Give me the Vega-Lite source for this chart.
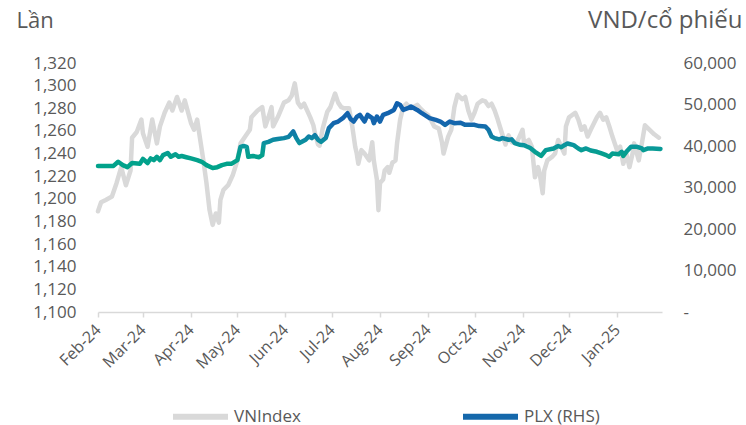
{
  "$schema": "https://vega.github.io/schema/vega-lite/v6.json",
  "width": 564,
  "height": 249,
  "autosize": {"type": "none"},
  "padding": {"left": 98, "top": 63, "right": 84, "bottom": 113},
  "config": {
    "font": "Open Sans",
    "view": {"stroke": null},
    "axis": {"grid": false, "labelColor": "#595959", "titleColor": "#595959", "titleFontWeight": "normal"}
  },
  "datasets": {
    "vn": [
      {"date": "2024-02-01", "value": 1189}, {"date": "2024-02-03", "value": 1197}, {"date": "2024-02-06", "value": 1199},
      {"date": "2024-02-10", "value": 1202}, {"date": "2024-02-13", "value": 1214}, {"date": "2024-02-16", "value": 1228},
      {"date": "2024-02-19", "value": 1212}, {"date": "2024-02-22", "value": 1225}, {"date": "2024-02-23", "value": 1254},
      {"date": "2024-02-26", "value": 1259}, {"date": "2024-02-29", "value": 1270}, {"date": "2024-03-01", "value": 1258},
      {"date": "2024-03-04", "value": 1246}, {"date": "2024-03-07", "value": 1270}, {"date": "2024-03-10", "value": 1249},
      {"date": "2024-03-12", "value": 1264}, {"date": "2024-03-15", "value": 1276}, {"date": "2024-03-18", "value": 1285},
      {"date": "2024-03-20", "value": 1278}, {"date": "2024-03-23", "value": 1290}, {"date": "2024-03-26", "value": 1278},
      {"date": "2024-03-28", "value": 1287}, {"date": "2024-04-01", "value": 1267}, {"date": "2024-04-03", "value": 1261},
      {"date": "2024-04-05", "value": 1270}, {"date": "2024-04-07", "value": 1252}, {"date": "2024-04-09", "value": 1234},
      {"date": "2024-04-11", "value": 1214}, {"date": "2024-04-13", "value": 1190}, {"date": "2024-04-15", "value": 1177},
      {"date": "2024-04-17", "value": 1187}, {"date": "2024-04-19", "value": 1179}, {"date": "2024-04-20", "value": 1199},
      {"date": "2024-04-22", "value": 1208}, {"date": "2024-04-25", "value": 1212}, {"date": "2024-04-28", "value": 1221},
      {"date": "2024-05-01", "value": 1234}, {"date": "2024-05-03", "value": 1249}, {"date": "2024-05-06", "value": 1255},
      {"date": "2024-05-09", "value": 1261}, {"date": "2024-05-10", "value": 1272}, {"date": "2024-05-14", "value": 1278},
      {"date": "2024-05-17", "value": 1281}, {"date": "2024-05-19", "value": 1264}, {"date": "2024-05-21", "value": 1272},
      {"date": "2024-05-23", "value": 1281}, {"date": "2024-05-24", "value": 1264}, {"date": "2024-05-27", "value": 1272},
      {"date": "2024-05-31", "value": 1285}, {"date": "2024-06-03", "value": 1287}, {"date": "2024-06-05", "value": 1291},
      {"date": "2024-06-07", "value": 1302}, {"date": "2024-06-09", "value": 1285}, {"date": "2024-06-11", "value": 1281},
      {"date": "2024-06-13", "value": 1284}, {"date": "2024-06-15", "value": 1278}, {"date": "2024-06-17", "value": 1272},
      {"date": "2024-06-19", "value": 1265}, {"date": "2024-06-20", "value": 1258}, {"date": "2024-06-22", "value": 1248},
      {"date": "2024-06-23", "value": 1247}, {"date": "2024-06-25", "value": 1262}, {"date": "2024-06-28", "value": 1277},
      {"date": "2024-06-30", "value": 1281}, {"date": "2024-07-02", "value": 1289}, {"date": "2024-07-03", "value": 1293},
      {"date": "2024-07-05", "value": 1285}, {"date": "2024-07-07", "value": 1281}, {"date": "2024-07-09", "value": 1280},
      {"date": "2024-07-12", "value": 1280}, {"date": "2024-07-14", "value": 1265}, {"date": "2024-07-16", "value": 1246},
      {"date": "2024-07-17", "value": 1240}, {"date": "2024-07-18", "value": 1231}, {"date": "2024-07-20", "value": 1243},
      {"date": "2024-07-22", "value": 1240}, {"date": "2024-07-25", "value": 1234}, {"date": "2024-07-27", "value": 1250},
      {"date": "2024-07-28", "value": 1234}, {"date": "2024-07-30", "value": 1217}, {"date": "2024-07-31", "value": 1190},
      {"date": "2024-08-01", "value": 1214}, {"date": "2024-08-03", "value": 1217}, {"date": "2024-08-04", "value": 1225},
      {"date": "2024-08-06", "value": 1228}, {"date": "2024-08-07", "value": 1223}, {"date": "2024-08-09", "value": 1232},
      {"date": "2024-08-11", "value": 1234}, {"date": "2024-08-12", "value": 1249}, {"date": "2024-08-14", "value": 1270},
      {"date": "2024-08-16", "value": 1281}, {"date": "2024-08-18", "value": 1284}, {"date": "2024-08-21", "value": 1280},
      {"date": "2024-08-25", "value": 1283}, {"date": "2024-08-27", "value": 1280}, {"date": "2024-08-30", "value": 1276},
      {"date": "2024-09-01", "value": 1274}, {"date": "2024-09-02", "value": 1272}, {"date": "2024-09-05", "value": 1264},
      {"date": "2024-09-08", "value": 1262}, {"date": "2024-09-10", "value": 1250}, {"date": "2024-09-11", "value": 1240},
      {"date": "2024-09-14", "value": 1255}, {"date": "2024-09-16", "value": 1261}, {"date": "2024-09-18", "value": 1281},
      {"date": "2024-09-20", "value": 1292}, {"date": "2024-09-23", "value": 1288}, {"date": "2024-09-25", "value": 1290},
      {"date": "2024-09-27", "value": 1278}, {"date": "2024-09-29", "value": 1270}, {"date": "2024-10-01", "value": 1276},
      {"date": "2024-10-03", "value": 1284}, {"date": "2024-10-06", "value": 1287}, {"date": "2024-10-08", "value": 1286},
      {"date": "2024-10-10", "value": 1282}, {"date": "2024-10-12", "value": 1284}, {"date": "2024-10-14", "value": 1278},
      {"date": "2024-10-16", "value": 1270}, {"date": "2024-10-18", "value": 1261}, {"date": "2024-10-21", "value": 1248},
      {"date": "2024-10-23", "value": 1256}, {"date": "2024-10-25", "value": 1250}, {"date": "2024-10-28", "value": 1249},
      {"date": "2024-10-30", "value": 1255}, {"date": "2024-11-01", "value": 1261}, {"date": "2024-11-02", "value": 1249},
      {"date": "2024-11-05", "value": 1252}, {"date": "2024-11-07", "value": 1246}, {"date": "2024-11-09", "value": 1219},
      {"date": "2024-11-11", "value": 1228}, {"date": "2024-11-12", "value": 1223}, {"date": "2024-11-14", "value": 1205},
      {"date": "2024-11-15", "value": 1225}, {"date": "2024-11-17", "value": 1234}, {"date": "2024-11-20", "value": 1237},
      {"date": "2024-11-22", "value": 1240}, {"date": "2024-11-24", "value": 1252}, {"date": "2024-11-26", "value": 1246},
      {"date": "2024-11-28", "value": 1240}, {"date": "2024-11-29", "value": 1264}, {"date": "2024-12-01", "value": 1272},
      {"date": "2024-12-05", "value": 1276}, {"date": "2024-12-07", "value": 1270}, {"date": "2024-12-09", "value": 1261},
      {"date": "2024-12-11", "value": 1264}, {"date": "2024-12-13", "value": 1255}, {"date": "2024-12-15", "value": 1261},
      {"date": "2024-12-19", "value": 1272}, {"date": "2024-12-21", "value": 1276}, {"date": "2024-12-23", "value": 1270},
      {"date": "2024-12-25", "value": 1272}, {"date": "2024-12-27", "value": 1264}, {"date": "2024-12-29", "value": 1255},
      {"date": "2025-01-01", "value": 1243}, {"date": "2025-01-03", "value": 1246}, {"date": "2025-01-05", "value": 1231},
      {"date": "2025-01-07", "value": 1240}, {"date": "2025-01-09", "value": 1228}, {"date": "2025-01-11", "value": 1240},
      {"date": "2025-01-12", "value": 1249}, {"date": "2025-01-15", "value": 1234}, {"date": "2025-01-17", "value": 1249},
      {"date": "2025-01-19", "value": 1265}, {"date": "2025-01-22", "value": 1261}, {"date": "2025-01-25", "value": 1257},
      {"date": "2025-01-28", "value": 1254}
    ],
    "plx": [
      {"date": "2024-02-01", "value": 35200}, {"date": "2024-02-11", "value": 35200}, {"date": "2024-02-14", "value": 36200},
      {"date": "2024-02-17", "value": 35400}, {"date": "2024-02-20", "value": 34900}, {"date": "2024-02-23", "value": 35900},
      {"date": "2024-02-28", "value": 35700}, {"date": "2024-03-01", "value": 36900}, {"date": "2024-03-04", "value": 35900},
      {"date": "2024-03-06", "value": 37000}, {"date": "2024-03-08", "value": 36600}, {"date": "2024-03-10", "value": 37400},
      {"date": "2024-03-12", "value": 36600}, {"date": "2024-03-14", "value": 37800}, {"date": "2024-03-17", "value": 38300},
      {"date": "2024-03-19", "value": 37400}, {"date": "2024-03-22", "value": 38000}, {"date": "2024-03-24", "value": 37400},
      {"date": "2024-03-26", "value": 37600}, {"date": "2024-03-29", "value": 37300}, {"date": "2024-04-01", "value": 37000},
      {"date": "2024-04-05", "value": 36600}, {"date": "2024-04-08", "value": 36200}, {"date": "2024-04-11", "value": 35400},
      {"date": "2024-04-15", "value": 34700}, {"date": "2024-04-18", "value": 34900}, {"date": "2024-04-21", "value": 35400},
      {"date": "2024-04-24", "value": 35700}, {"date": "2024-04-27", "value": 35700}, {"date": "2024-05-01", "value": 36600},
      {"date": "2024-05-03", "value": 39800}, {"date": "2024-05-05", "value": 40000}, {"date": "2024-05-07", "value": 39800},
      {"date": "2024-05-08", "value": 37400}, {"date": "2024-05-11", "value": 37600}, {"date": "2024-05-15", "value": 37300},
      {"date": "2024-05-17", "value": 37800}, {"date": "2024-05-18", "value": 40700}, {"date": "2024-05-21", "value": 41000},
      {"date": "2024-05-24", "value": 41500}, {"date": "2024-05-27", "value": 41700}, {"date": "2024-05-31", "value": 41900},
      {"date": "2024-06-03", "value": 42200}, {"date": "2024-06-06", "value": 43500}, {"date": "2024-06-08", "value": 41900},
      {"date": "2024-06-10", "value": 40700}, {"date": "2024-06-14", "value": 41500}, {"date": "2024-06-16", "value": 42300},
      {"date": "2024-06-18", "value": 41900}, {"date": "2024-06-20", "value": 42600}, {"date": "2024-06-22", "value": 41500},
      {"date": "2024-06-24", "value": 41000}, {"date": "2024-06-27", "value": 41900}, {"date": "2024-06-29", "value": 44300},
      {"date": "2024-07-02", "value": 45500}, {"date": "2024-07-05", "value": 45900}, {"date": "2024-07-08", "value": 46700},
      {"date": "2024-07-11", "value": 47900}, {"date": "2024-07-13", "value": 46500}, {"date": "2024-07-15", "value": 45900},
      {"date": "2024-07-17", "value": 47000}, {"date": "2024-07-19", "value": 47500}, {"date": "2024-07-22", "value": 45900},
      {"date": "2024-07-24", "value": 47500}, {"date": "2024-07-27", "value": 46700}, {"date": "2024-07-28", "value": 45500},
      {"date": "2024-07-30", "value": 47100}, {"date": "2024-08-01", "value": 45900}, {"date": "2024-08-03", "value": 47500},
      {"date": "2024-08-06", "value": 47900}, {"date": "2024-08-10", "value": 48700}, {"date": "2024-08-12", "value": 50300},
      {"date": "2024-08-14", "value": 49900}, {"date": "2024-08-16", "value": 48700}, {"date": "2024-08-19", "value": 49100},
      {"date": "2024-08-21", "value": 49500}, {"date": "2024-08-25", "value": 48700}, {"date": "2024-08-28", "value": 47900},
      {"date": "2024-09-02", "value": 46700}, {"date": "2024-09-06", "value": 46300}, {"date": "2024-09-09", "value": 45900},
      {"date": "2024-09-12", "value": 45100}, {"date": "2024-09-15", "value": 45900}, {"date": "2024-09-18", "value": 45500},
      {"date": "2024-09-22", "value": 45600}, {"date": "2024-09-25", "value": 45100}, {"date": "2024-09-28", "value": 45100},
      {"date": "2024-10-01", "value": 45100}, {"date": "2024-10-04", "value": 44800}, {"date": "2024-10-08", "value": 44700},
      {"date": "2024-10-10", "value": 43900}, {"date": "2024-10-12", "value": 42300}, {"date": "2024-10-14", "value": 41900},
      {"date": "2024-10-17", "value": 41600}, {"date": "2024-10-19", "value": 41900}, {"date": "2024-10-23", "value": 41500},
      {"date": "2024-10-25", "value": 41600}, {"date": "2024-10-27", "value": 40700}, {"date": "2024-10-30", "value": 40300},
      {"date": "2024-11-02", "value": 40200}, {"date": "2024-11-06", "value": 39500}, {"date": "2024-11-09", "value": 38600},
      {"date": "2024-11-13", "value": 37600}, {"date": "2024-11-16", "value": 39000}, {"date": "2024-11-21", "value": 39400},
      {"date": "2024-11-24", "value": 40000}, {"date": "2024-11-26", "value": 39700}, {"date": "2024-11-28", "value": 40200},
      {"date": "2024-11-30", "value": 40600}, {"date": "2024-12-04", "value": 40200}, {"date": "2024-12-07", "value": 39400},
      {"date": "2024-12-09", "value": 39000}, {"date": "2024-12-12", "value": 39400}, {"date": "2024-12-15", "value": 38900},
      {"date": "2024-12-19", "value": 38600}, {"date": "2024-12-22", "value": 38200}, {"date": "2024-12-25", "value": 37800},
      {"date": "2024-12-27", "value": 37400}, {"date": "2024-12-29", "value": 38200}, {"date": "2025-01-02", "value": 38000},
      {"date": "2025-01-04", "value": 38600}, {"date": "2025-01-05", "value": 37600}, {"date": "2025-01-07", "value": 38600},
      {"date": "2025-01-10", "value": 39800}, {"date": "2025-01-14", "value": 39800}, {"date": "2025-01-17", "value": 39400},
      {"date": "2025-01-18", "value": 39000}, {"date": "2025-01-21", "value": 39400}, {"date": "2025-01-24", "value": 39400},
      {"date": "2025-01-29", "value": 39300}
    ]
  },
  "encoding": {
    "x": {
      "field": "date",
      "type": "temporal",
      "scale": {
        "type": "utc",
        "nice": false,
        "domain": [{"year": 2024, "month": 2, "date": 1, "utc": true}, {"year": 2025, "month": 1, "date": 30, "utc": true}]
      },
      "axis": {
        "title": null,
        "labelExpr": "utcFormat(datum.value, '%b-%y')",
        "tickCount": {"interval": "month", "step": 1},
        "labelAngle": -45,
        "labelAlign": "right",
        "labelBaseline": "middle",
        "labelPadding": 10,
        "labelFontSize": 16,
        "labelOverlap": false,
        "labelFlush": false,
        "domainColor": "#d9d9d9",
        "domainWidth": 1.5,
        "tickColor": "#d9d9d9",
        "tickWidth": 1.5,
        "tickSize": 5
      }
    }
  },
  "layer": [
    {
      "data": {"name": "vn"},
      "mark": {"type": "line", "strokeWidth": 4.5, "strokeJoin": "round", "strokeCap": "round"},
      "encoding": {
        "y": {
          "field": "value",
          "type": "quantitative",
          "scale": {"domain": [1100, 1320], "nice": false, "zero": false},
          "axis": {
            "orient": "left",
            "values": [1100, 1120, 1140, 1160, 1180, 1200, 1220, 1240, 1260, 1280, 1300, 1320],
            "labelExpr": "format(datum.value, ',.0f')",
            "domain": false,
            "ticks": false,
            "labelPadding": 22,
            "labelFontSize": 17,
            "title": "Lần",
            "titleAngle": 0,
            "titleAlign": "left",
            "titleBaseline": "alphabetic",
            "titleX": -82,
            "titleY": -36,
            "titleFontSize": 22
          }
        },
        "color": {
          "datum": "VNIndex",
          "scale": {"domain": ["VNIndex", "PLX (RHS)"], "range": ["#d9d9d9", "#1568ab"]},
          "legend": {
            "title": null,
            "orient": "none",
            "legendX": 94,
            "legendY": 345,
            "direction": "horizontal",
            "symbolType": "M-5,0H5",
            "symbolSize": 121,
            "symbolStrokeWidth": 6,
            "labelFontSize": 17,
            "labelColor": "#595959",
            "labelOffset": 25,
            "columnPadding": 150
          }
        }
      }
    },
    {
      "data": {"name": "plx"},
      "mark": {"type": "line", "strokeWidth": 4.5, "strokeJoin": "round", "strokeCap": "round"},
      "encoding": {
        "y": {
          "field": "value",
          "type": "quantitative",
          "scale": {"domain": [0, 60000], "nice": false},
          "axis": {
            "orient": "right",
            "values": [0, 10000, 20000, 30000, 40000, 50000, 60000],
            "labelExpr": "datum.value === 0 ? '-' : format(datum.value, ',.0f')",
            "domain": false,
            "ticks": false,
            "labelAlign": "left",
            "labelPadding": 21,
            "labelFontSize": 17,
            "title": "VND/cổ phiếu",
            "titleAngle": 0,
            "titleAlign": "right",
            "titleBaseline": "alphabetic",
            "titleX": 80,
            "titleY": -36,
            "titleFontSize": 24
          }
        },
        "color": {"datum": "PLX (RHS)"},
        "stroke": {
          "value": {
            "gradient": "linear",
            "x1": 0, "y1": 0, "x2": 0, "y2": 1,
            "stops": [
              {"offset": 0, "color": "#1060ad"},
              {"offset": 0.3, "color": "#1565ad"},
              {"offset": 0.5, "color": "#0f80a5"},
              {"offset": 0.65, "color": "#0a969c"},
              {"offset": 0.8, "color": "#05a08d"},
              {"offset": 1, "color": "#00a38a"}
            ]
          }
        }
      }
    }
  ],
  "resolve": {"scale": {"y": "independent"}}
}
